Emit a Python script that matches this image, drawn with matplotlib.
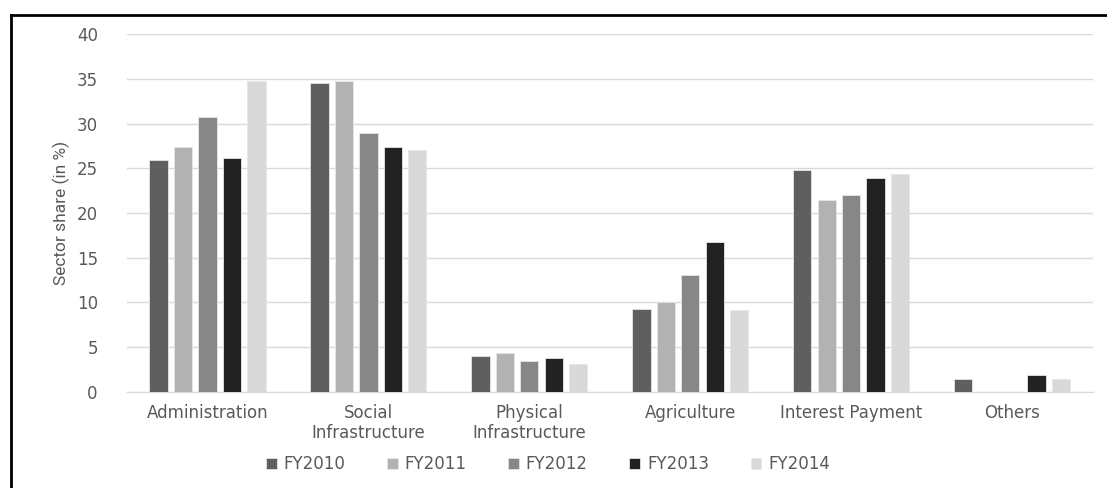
import matplotlib.pyplot as plt
import numpy as np
from matplotlib.lines import Line2D

categories = ["Administration", "Social\nInfrastructure", "Physical\nInfrastructure",
              "Agriculture", "Interest Payment", "Others"]
years = ["FY2010", "FY2011", "FY2012", "FY2013", "FY2014"]
fy2010 = [25.9, 34.5, 4.0, 9.3, 24.8, 1.4]
fy2011 = [27.4, 34.8, 4.4, 10.1, 21.5, 0]
fy2012 = [30.7, 29.0, 3.5, 13.1, 22.0, 0]
fy2013 = [26.1, 27.4, 3.8, 16.8, 23.9, 1.9]
fy2014 = [34.8, 27.0, 3.1, 9.2, 24.4, 1.4]
colors = ["#5f5f5f", "#b2b2b2", "#878787", "#222222", "#d9d9d9"]


def main():
    plt.rcParams['font.family'] = ['DejaVu Sans']
    series = [fy2010, fy2011, fy2012, fy2013, fy2014]
    fig = plt.figure(figsize=(11.07, 4.88), dpi=100)
    ax = fig.add_axes([0.1147, 0.197, 0.8723, 0.733])

    x = np.arange(len(categories))
    slot = 0.152
    width = 0.114
    for i, (vals, yr, c) in enumerate(zip(series, years, colors)):
        ax.bar(x + (i - 2) * slot, vals, width, color=c, label=yr,
               edgecolor="#e6e6e6", linewidth=0.6, zorder=3)

    ax.set_xlim(-0.5, len(categories) - 0.5)
    ax.set_ylim(0, 40)
    ax.set_yticks(range(0, 41, 5))
    ax.grid(axis="y", color="#d9d9d9", linewidth=1, zorder=0)
    for s in ["top", "right", "left"]:
        ax.spines[s].set_visible(False)
    ax.spines["bottom"].set_color("#d9d9d9")
    ax.tick_params(axis="both", length=0, labelsize=12, labelcolor="#595959")
    ax.tick_params(axis="y", pad=21)
    ax.tick_params(axis="x", pad=9)
    ax.set_xticks(x)
    ax.set_xticklabels(categories, linespacing=1.15)
    ax.set_ylabel("Sector share (in %)", fontsize=12.5, color="#595959",
                  family=["Liberation Sans Narrow", "Roboto", "DejaVu Sans"],
                  labelpad=5)

    ax.legend(loc="upper center", bbox_to_anchor=(0.436, -0.135), ncol=5,
              frameon=False, fontsize=12, labelcolor="#595959",
              handlelength=0.65, handleheight=0.65, handletextpad=0.4,
              columnspacing=2.5)

    # partial black frame around the picture
    fig.add_artist(Line2D([11 / 1107, 11 / 1107], [0, 1 - 15 / 488],
                          color="black", linewidth=2, transform=fig.transFigure))
    fig.add_artist(Line2D([11 / 1107, 1], [1 - 15 / 488, 1 - 15 / 488],
                          color="black", linewidth=2, transform=fig.transFigure))

    fig.savefig("out.png", dpi=100)


if __name__ == '__main__':
    main()
